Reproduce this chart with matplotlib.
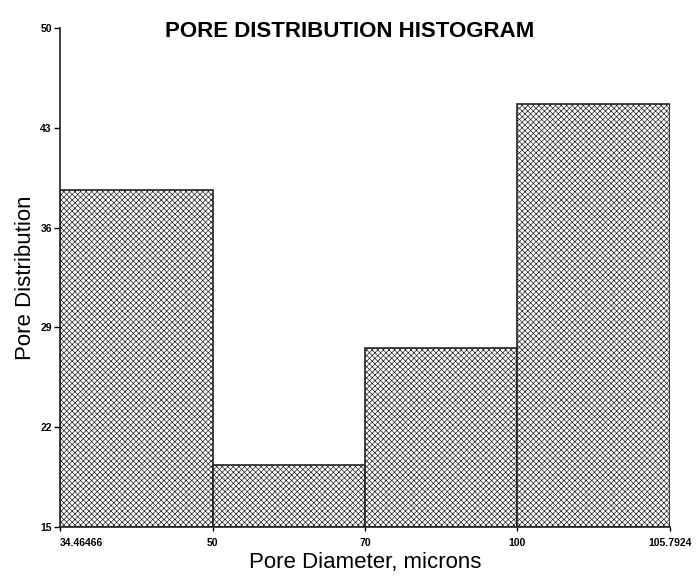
import matplotlib.pyplot as plt
from matplotlib import rcParams

rcParams['font.family'] = ['Liberation Sans', 'DejaVu Sans']
rcParams['hatch.color'] = '#505050'
rcParams['hatch.linewidth'] = 0.5

# bin edges (as printed) and bar heights
edge_labels = ["34.46466", "50", "70", "100", "105.7924"]
counts = [38.6, 19.35, 27.55, 44.65]
y_ticks = [15, 22, 29, 36, 43, 50]

fig = plt.figure(figsize=(7, 5.8), dpi=100)
ax = fig.add_axes([0.086, 0.091, 0.871, 0.861])

pos = range(len(counts))
ax.bar(pos, [c - 15 for c in counts], bottom=15, width=1, align='edge',
       facecolor='white', edgecolor='#222222', linewidth=1.2, hatch='xxxxxx')

ax.set_xlim(0, len(counts))
ax.set_ylim(15, 50)
ax.set_yticks(y_ticks)
ax.set_xticks(range(len(edge_labels)))
ax.set_xticklabels(edge_labels)
for t in ax.get_xticklabels() + ax.get_yticklabels():
    t.set_fontsize(7.5)
    t.set_fontweight('bold')
ax.get_xticklabels()[0].set_horizontalalignment('left')
ax.get_xticklabels()[0].set_x(-0.03)
ax.tick_params(axis='x', length=3, width=1, pad=5)
ax.tick_params(axis='y', length=4, width=1, pad=2)

for s in ['top', 'right']:
    ax.spines[s].set_visible(False)
for s in ['left', 'bottom']:
    ax.spines[s].set_linewidth(1.2)
    ax.spines[s].set_color('#222222')

ax.set_xlabel("Pore Diameter, microns", fontsize=16, labelpad=3)
ax.set_ylabel("Pore Distribution", fontsize=16, labelpad=0)
ax.yaxis.set_label_coords(-0.04, 0.5)
fig.text(0.5, 0.945, "PORE DISTRIBUTION HISTOGRAM", ha='center', va='center',
         fontsize=16, fontweight='bold')

fig.savefig("out.png", dpi=100)
